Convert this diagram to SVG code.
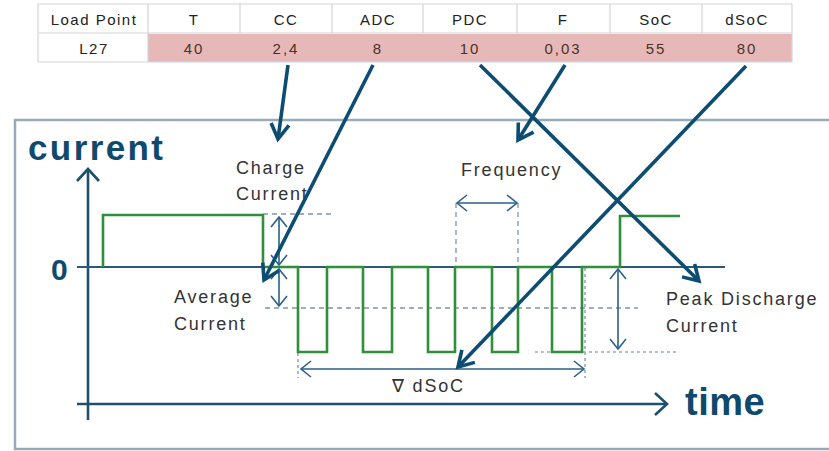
<svg xmlns="http://www.w3.org/2000/svg" width="829" height="451" viewBox="0 0 829 451">
<style>
.hdr{font-family:"Liberation Sans",Arial,sans-serif;font-size:15px;fill:#222;text-anchor:middle;letter-spacing:1.5px}
.val{font-family:"Liberation Sans",Arial,sans-serif;font-size:15px;fill:#4a3328;text-anchor:middle;letter-spacing:2px}
.lbl{font-family:"Liberation Sans",Arial,sans-serif;font-size:18px;fill:#333;letter-spacing:1.8px}
.big{font-family:"Liberation Sans",Arial,sans-serif;font-weight:bold;fill:#0f4a6c}
.grid{stroke:#d4d4d4;stroke-width:1.2;fill:none}
.axis{stroke:#1d4f6f;stroke-width:2.6;fill:none}
.zero{stroke:#2a5a78;stroke-width:1.8;fill:none}
.wave{stroke:#2f8f3a;stroke-width:2.6;fill:none;stroke-linejoin:miter}
.dash{stroke:#7f95a8;stroke-width:1.3;stroke-dasharray:5 4;fill:none}
.dot{stroke:#9aaab8;stroke-width:1.6;stroke-dasharray:3 3;fill:none}
.dim{stroke:#2a6188;stroke-width:1.6;fill:none}
.conn{stroke:#0e4d72;stroke-width:3.6;fill:none}
</style>
<defs>
<marker id="thin" markerUnits="userSpaceOnUse" markerWidth="30" markerHeight="30" refX="0" refY="0" viewBox="-15 -15 30 30" orient="auto-start-reverse" overflow="visible">
<path d="M-10,-8 L0,0 L-10,8" stroke="#2a6188" stroke-width="1.6" fill="none"/>
</marker>
<marker id="ax" markerUnits="userSpaceOnUse" markerWidth="30" markerHeight="30" refX="0" refY="0" viewBox="-15 -15 30 30" orient="auto" overflow="visible">
<path d="M-12,-11 L0,0 L-12,11" stroke="#1d4f6f" stroke-width="2.6" fill="none"/>
</marker>
<marker id="thick" markerUnits="userSpaceOnUse" markerWidth="40" markerHeight="40" refX="0" refY="0" viewBox="-20 -20 40 40" orient="auto" overflow="visible">
<path d="M-15,-9 L0,0 L-15,9" stroke="#0e4d72" stroke-width="3.6" fill="none" stroke-linejoin="miter"/>
</marker>
</defs>

<g id="table">
<rect x="148" y="34" width="644" height="28" fill="#e6b8b7"/>
<path class="grid" d="M38,4 H792 M38,33 H792 M38,4 V62 M148,4 V62 M240,4 V33 M332,4 V33 M423,4 V33 M517,4 V33 M610,4 V33 M702,4 V33 M792,4 V62 M38,62 H148"/>
<path d="M148,62 H792" stroke="#c4dbe9" stroke-width="1.2"/>
<text class="hdr" x="94" y="25">Load Point</text>
<text class="hdr" x="194" y="25">T</text>
<text class="hdr" x="286" y="25">CC</text>
<text class="hdr" x="378" y="25">ADC</text>
<text class="hdr" x="470" y="25">PDC</text>
<text class="hdr" x="563" y="25">F</text>
<text class="hdr" x="656" y="25">SoC</text>
<text class="hdr" x="747" y="25">dSoC</text>
<text class="hdr" x="94" y="54">L27</text>
<text class="val" x="194" y="54">40</text>
<text class="val" x="286" y="54">2,4</text>
<text class="val" x="378" y="54">8</text>
<text class="val" x="470" y="54">10</text>
<text class="val" x="563" y="54">0,03</text>
<text class="val" x="656" y="54">55</text>
<text class="val" x="747" y="54">80</text>
</g>

<g id="frame">
<rect x="15" y="120" width="840" height="329" fill="none" stroke="#97aab9" stroke-width="2.5"/>
</g>

<g id="axes">
<text class="big" x="28" y="160" font-size="35" letter-spacing="2.4">current</text>
<text class="big" x="685" y="415" font-size="38" letter-spacing="0.5">time</text>
<text class="big" x="51" y="280" font-size="30">0</text>
<path class="axis" d="M88,420 V169" marker-end="url(#ax)"/>
<path class="axis" d="M77,404 H667" marker-end="url(#ax)"/>
<path class="zero" d="M77,267 H725"/>
</g>

<g id="guides">
<path class="dash" d="M263,214 H333"/>
<path class="dash" d="M265,308 H638"/>
<path class="dot" d="M535,352 H678"/>
<path class="dash" d="M456,203 V267 M518,203 V267"/>
<path class="dot" d="M298,353 V378 M585,268 V378"/>
</g>

<g id="waveform">
<path class="wave" d="M103,267 V215 H263 V267 H298 V352 H327 V267 H363 V352 H392 V267 H428 V352 H455 V267 H492 V352 H518 V267 H552 V352 H582 V267 H620 V216 H680"/>
</g>

<g id="dimensions">
<path class="dim" d="M279,217 V265" marker-start="url(#thin)" marker-end="url(#thin)"/>
<path class="dim" d="M279,269 V306" marker-start="url(#thin)" marker-end="url(#thin)"/>
<path class="dim" d="M457,203 H517" marker-start="url(#thin)" marker-end="url(#thin)"/>
<path class="dim" d="M618,269 V349" marker-start="url(#thin)" marker-end="url(#thin)"/>
<path class="dim" d="M301,369 H584" marker-start="url(#thin)" marker-end="url(#thin)"/>
</g>

<g id="labels">
<text class="lbl" x="236" y="174">Charge</text>
<text class="lbl" x="236" y="200">Current</text>
<text class="lbl" x="461" y="176">Frequency</text>
<text class="lbl" x="174" y="303">Average</text>
<text class="lbl" x="174" y="330">Current</text>
<text class="lbl" x="666" y="305">Peak Discharge</text>
<text class="lbl" x="666" y="332">Current</text>
<text class="lbl" x="392" y="392" font-size="16" letter-spacing="1">∇ dSoC</text>
</g>

<g id="connectors">
<path class="conn" d="M288,65 L278,139" marker-end="url(#thick)"/>
<path class="conn" d="M373,65 L264,280" marker-end="url(#thick)"/>
<path class="conn" d="M480,65 L699,281" marker-end="url(#thick)"/>
<path class="conn" d="M565,65 L518,140" marker-end="url(#thick)"/>
<path class="conn" d="M746,66 L458,367" marker-end="url(#thick)"/>
</g>
</svg>
